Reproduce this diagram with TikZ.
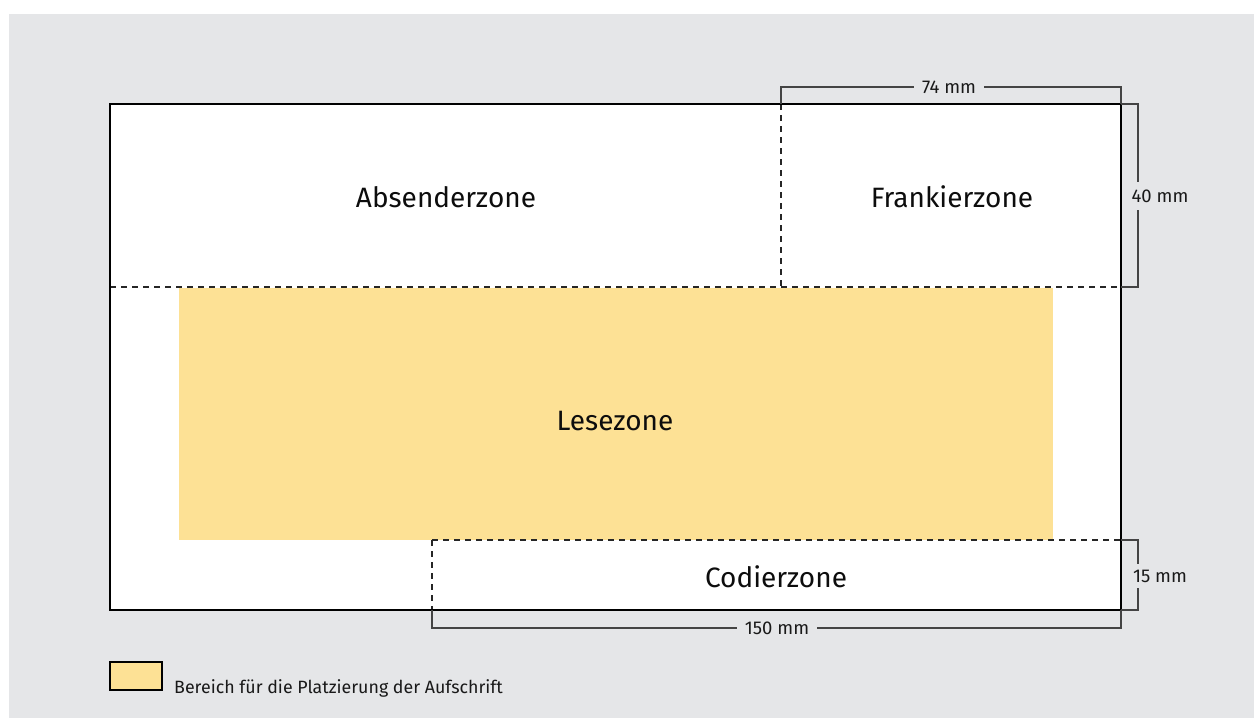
\documentclass[tikz,border=0pt]{standalone}
\usepackage{fontspec}
\setmainfont{Fira Sans}
\definecolor{bg}{HTML}{E5E6E8}
\definecolor{lese}{HTML}{FDE195}
\definecolor{dimc}{HTML}{444444}
\tikzset{
  env/.style={draw=black,line width=1.5pt},
  zoneline/.style={draw=black!85,line width=1.4pt,dash pattern=on 6pt off 5pt},
  dimline/.style={draw=dimc,line width=1.2pt},
  zonelabel/.style={font=\fontsize{28}{32}\selectfont,text=black!95,inner sep=0pt},
  dimlabel/.style={font=\fontsize{18.5}{22}\selectfont,text=black!90,fill=bg,inner xsep=8pt,inner ysep=8pt},
}
\begin{document}
\begin{tikzpicture}[x=1pt,y=-1pt]
\useasboundingbox (0,0) rectangle (1254,718);
\fill[bg] (9,14) rectangle (1254,718);
% corners
\coordinate (tl) at (110,104);
\coordinate (br) at (1121,610);
\coordinate (tr) at (1121,104);
\coordinate (ml) at (110,287);
\coordinate (mr) at (1121,287);
\coordinate (ft) at (781,104);
\coordinate (fb) at (781,287);
\coordinate (cl) at (432,540);
\coordinate (cr) at (1121,540);
\coordinate (cb) at (432,610);
% envelope
\fill[white] (tl) rectangle (br);
\fill[lese] (179,288) rectangle (1053,540);
\draw[zoneline] (ml) -- (mr);
\draw[zoneline] (ft) -- (fb);
\draw[zoneline] (cl) -- (cr);
\draw[zoneline] (cl) -- (cb);
\draw[env] (tl) rectangle (br);
% labels
\node[zonelabel] (abs) at (446,197) {Absenderzone};
\node[zonelabel] (fra) at (952,197) {Frankierzone};
\node[zonelabel] (les) at (615,421) {Lesezone};
\node[zonelabel] (cod) at (776,577) {Codierzone};
% dimension 74 mm
\coordinate (d74a) at (781,87);
\coordinate (d74b) at (1121,87);
\draw[dimline] (ft) -- (d74a) -- (d74b) -- (tr);
\node[dimlabel] (l74) at (949,87) {74 mm};
% dimension 40 mm
\coordinate (d40a) at (1138,104);
\coordinate (d40b) at (1138,287);
\draw[dimline] (tr) -- (d40a) -- (d40b) -- (mr);
\node[dimlabel] (l40) at (1160,196) {40 mm};
% dimension 15 mm
\coordinate (d15a) at (1138,540);
\coordinate (d15b) at (1138,610);
\draw[dimline] (cr) -- (d15a) -- (d15b) -- (br);
\node[dimlabel,inner ysep=6pt] (l15) at (1160,576) {15 mm};
% dimension 150 mm
\coordinate (d150a) at (432,628);
\coordinate (d150b) at (1121,628);
\draw[dimline] (cb) -- (d150a) -- (d150b) -- (br);
\node[dimlabel] (l150) at (777,628) {150 mm};
% legend
\node[draw=black,line width=1.2pt,fill=lese,minimum width=52pt,minimum height=28pt,inner sep=0pt] (leg) at (136,676) {};
\node[font=\fontsize{17.8}{20}\selectfont,text=black!90,anchor=west,inner sep=0pt] (legt) at (174,688) {Bereich für die Platzierung der Aufschrift};
\end{tikzpicture}
\end{document}
